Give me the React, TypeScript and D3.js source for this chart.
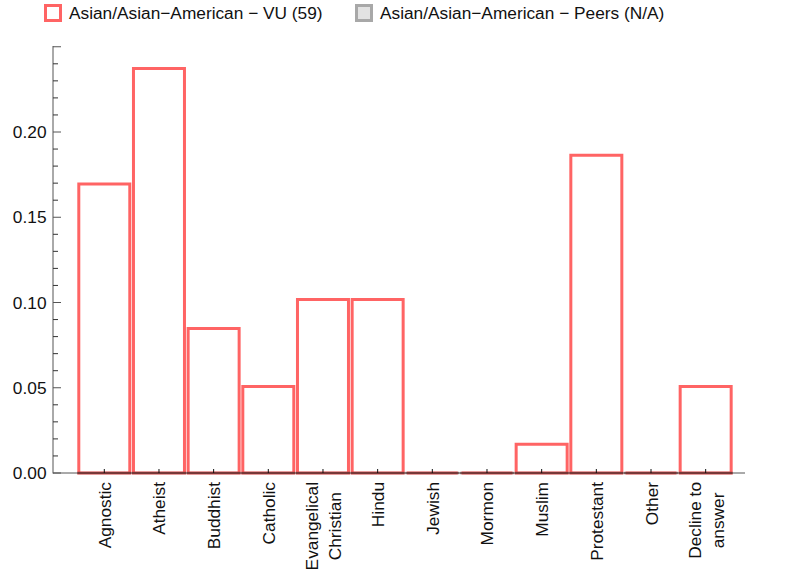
import React, { useEffect, useRef } from "react";
import * as d3 from "d3";

const categories: string[][] = [
  ["Agnostic"],
  ["Atheist"],
  ["Buddhist"],
  ["Catholic"],
  ["Evangelical", "Christian"],
  ["Hindu"],
  ["Jewish"],
  ["Mormon"],
  ["Muslim"],
  ["Protestant"],
  ["Other"],
  ["Decline to", "answer"],
];
const vuValues: number[] = [
  0.1695, 0.2373, 0.0847, 0.0508, 0.1017, 0.1017, 0, 0, 0.0169, 0.1864, 0, 0.0508,
];
const yTicks: number[] = [0, 0.05, 0.1, 0.15, 0.2];
const legendLabels: string[] = [
  "Asian/Asian\u2212American \u2212 VU (59)",
  "Asian/Asian\u2212American \u2212 Peers (N/A)",
];

const W = 785;
const H = 586;
const FONT = "'Liberation Sans', Arial, Helvetica, sans-serif";
const FS = 17.3;

export default function App() {
  const ref = useRef<SVGSVGElement | null>(null);

  useEffect(() => {
    const svg = d3.select(ref.current);
    svg.selectAll("*").remove();

    const x0 = 53;
    const x1 = 745;
    const yBase = 473;
    const y = d3.scaleLinear().domain([0, 0.25]).range([yBase, 46.75]);
    const step = 54.67;
    const firstCenter = 104.3;
    const x = d3
      .scaleBand<number>()
      .domain(d3.range(categories.length))
      .range([firstCenter - step / 2, firstCenter - step / 2 + step * categories.length])
      .paddingInner(0)
      .paddingOuter(0);
    const cx = (i: number) => (x(i) as number) + x.bandwidth() / 2;
    const barHalf = 25.5;

    // bars
    const bars = svg.append("g");
    vuValues.forEach((v, i) => {
      const l = cx(i) - barHalf;
      const r = cx(i) + barHalf;
      const t = y(v);
      const p = d3.path();
      p.moveTo(l, yBase);
      p.lineTo(l, t);
      p.lineTo(r, t);
      p.lineTo(r, yBase);
      p.closePath();
      bars
        .append("path")
        .attr("d", p.toString())
        .attr("fill", "white")
        .attr("stroke", "#ff6464")
        .attr("stroke-width", 3)
        .attr("stroke-linejoin", "miter");
    });

    // axes
    const ax = svg.append("g").attr("stroke", "#555").attr("stroke-width", 1);
    ax.append("line").attr("x1", x0).attr("x2", x0).attr("y1", 46).attr("y2", yBase + 0.5);
    ax.append("line").attr("x1", x0).attr("x2", x1).attr("y1", yBase).attr("y2", yBase);

    // baseline overlay under bars
    vuValues.forEach((v, i) => {
      svg
        .append("line")
        .attr("x1", cx(i) - barHalf - 1.5)
        .attr("x2", cx(i) + barHalf + 1.5)
        .attr("y1", yBase)
        .attr("y2", yBase)
        .attr("stroke", "rgba(70,20,20,0.5)")
        .attr("stroke-width", 2.5);
    });

    // y ticks
    const minor = d3.range(0, 0.2501, 0.01);
    minor.forEach((t) => {
      const isMajor = Math.abs(Math.round(t * 20) - t * 20) < 1e-6;
      svg
        .append("line")
        .attr("x1", x0)
        .attr("x2", x0 + (isMajor ? 8 : 5))
        .attr("y1", y(t))
        .attr("y2", y(t))
        .attr("stroke", isMajor ? "#555" : "#333")
        .attr("stroke-width", 1);
    });
    yTicks.forEach((t) => {
      svg
        .append("text")
        .attr("x", 46.5)
        .attr("y", y(t))
        .attr("dy", "0.36em")
        .attr("text-anchor", "end")
        .attr("font-family", FONT)
        .attr("font-size", FS)
        .attr("fill", "#111")
        .text(d3.format(".2f")(t));
    });

    // x ticks & labels
    categories.forEach((lines, i) => {
      const c = cx(i);
      svg
        .append("line")
        .attr("x1", c)
        .attr("x2", c)
        .attr("y1", yBase)
        .attr("y2", yBase - 4)
        .attr("stroke", "#111")
        .attr("stroke-width", 1);
      const g = svg.append("g");
      const texts = lines.map((ln) =>
        g
          .append("text")
          .attr("font-family", FONT)
          .attr("font-size", FS)
          .attr("fill", "#111")
          .text(ln)
      );
      const widths = texts.map((t) => (t.node() as SVGTextElement).getComputedTextLength());
      const maxW = Math.max(...widths);
      const yTop = 482;
      const lh = 23;
      const n = lines.length;
      texts.forEach((t, k) => {
        const baseOff = 6.5 + (k - (n - 1) / 2) * lh;
        const ty = yTop + maxW / 2;
        t.attr("text-anchor", "middle").attr(
          "transform",
          `translate(${c + baseOff},${ty}) rotate(-90)`
        );
      });
    });

    // legend
    const lg = svg.append("g");
    lg.append("rect")
      .attr("x", 45.5)
      .attr("y", 5.5)
      .attr("width", 15)
      .attr("height", 15)
      .attr("fill", "white")
      .attr("stroke", "#ff6464")
      .attr("stroke-width", 3);
    lg.append("text")
      .attr("x", 69)
      .attr("y", 19)
      .attr("font-family", FONT)
      .attr("font-size", FS)
      .attr("fill", "#111")
      .text(legendLabels[0]);
    lg.append("rect")
      .attr("x", 356.5)
      .attr("y", 5.5)
      .attr("width", 15)
      .attr("height", 15)
      .attr("fill", "#e2e2e2")
      .attr("stroke", "#a8a8a8")
      .attr("stroke-width", 3);
    lg.append("text")
      .attr("x", 380)
      .attr("y", 19)
      .attr("font-family", FONT)
      .attr("font-size", FS)
      .attr("fill", "#111")
      .text(legendLabels[1]);
  }, []);

  return (
    <svg
      ref={ref}
      width={W}
      height={H}
      style={{ position: "absolute", left: 0, top: 0, background: "white", display: "block" }}
    />
  );
}
